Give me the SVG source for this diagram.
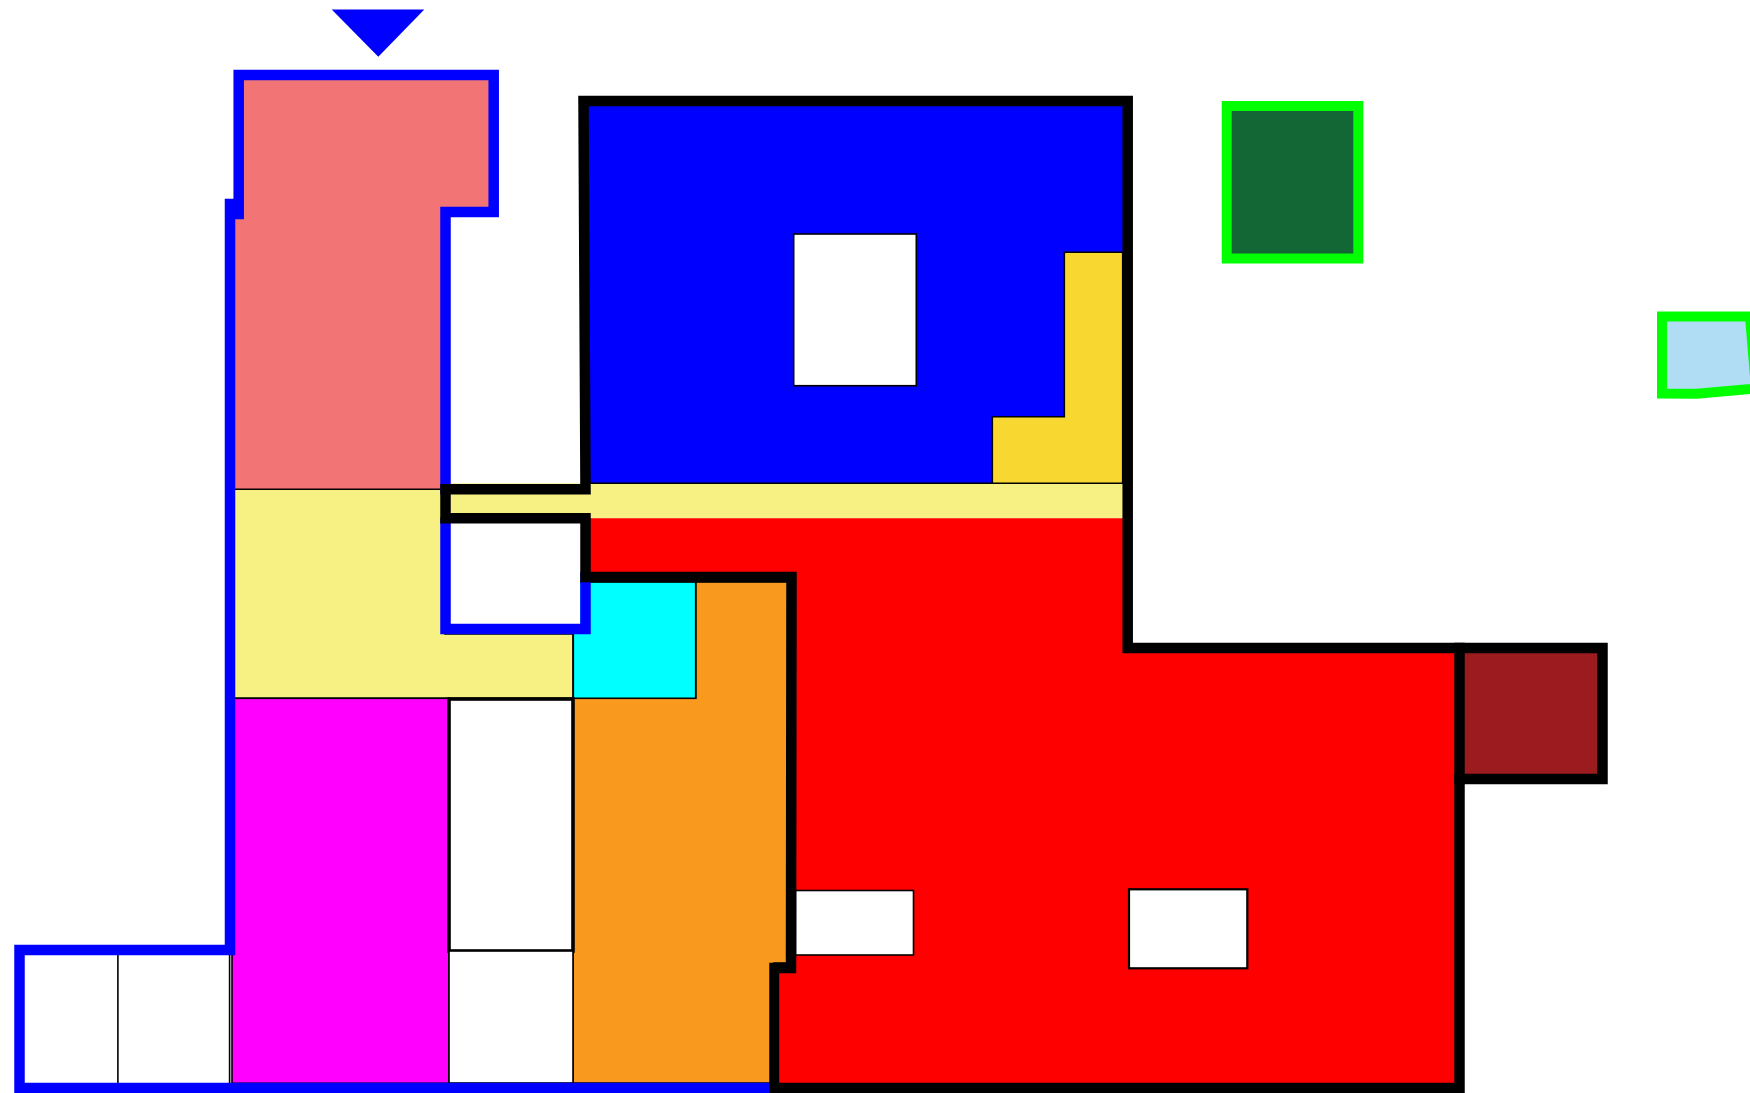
<svg xmlns="http://www.w3.org/2000/svg" width="1750" height="1093" viewBox="0 0 1750 1093">
<style>
.thin{stroke:#000;stroke-width:1.6}
.bw{fill:none;stroke:#0000ff;stroke-width:10.5;stroke-linejoin:miter;stroke-linecap:square}
.kw{fill:none;stroke:#000;stroke-width:10.5;stroke-linejoin:miter;stroke-linecap:square}
.gw{stroke:#00ff00;stroke-width:10}
</style>
<rect width="1750" height="1093" fill="#fff"/>
<g id="rooms">
<polygon id="pink" points="238,75 493,75 493,212 445,212 445,489.3 230,489.3 230,214 238,214" fill="#f27474"/>
<polygon id="yellow-hall" points="232,489.3 445,489.3 445,634 573,634 573,698.3 232,698.3" fill="#f7f083" class="thin"/>
<rect id="corridor" x="445" y="483.3" width="678" height="35" fill="#f7f083"/>
<rect id="blue-room" x="585" y="101" width="538" height="382.3" fill="#0000ff"/>
<line x1="589" y1="483.3" x2="1123" y2="483.3" class="thin"/>
<polygon id="gold" points="1064.3,252.3 1122.7,252.3 1122.7,483.3 992.3,483.3 992.3,416.7 1064.3,416.7" fill="#f8d731" class="thin"/>
<rect id="wc-blue" x="793.7" y="234" width="122.6" height="151.7" fill="#fff" class="thin"/>
<polygon id="red" points="589,518.3 1123,518.3 1123,653 1455,653 1455,1083 780,1083 780,973 786,973 786,582 589,582" fill="#ff0000"/>
<polygon id="orange" points="695.7,582 788,582 788,963 774,963 774,1083 573,1083 573,698.3 695.7,698.3" fill="#f99a1f" class="thin"/>
<rect id="cyan" x="573.3" y="582" width="122.4" height="116.3" fill="#00ffff" class="thin"/>
<rect id="white-a" x="450" y="523" width="130" height="101" fill="#fff"/>
<rect id="magenta" x="232" y="698.3" width="217" height="385" fill="#ff00ff" class="thin"/>
<rect id="white-tall" x="449" y="699" width="124" height="252" fill="#fff" stroke="#000" stroke-width="3.6"/>
<rect id="white-low" x="449" y="951" width="124" height="132" fill="#fff" class="thin"/>
<rect id="left-rooms" x="24" y="955" width="206" height="128" fill="#fff"/>
<line x1="117.9" y1="955" x2="117.9" y2="1083" class="thin"/>
<line x1="229.6" y1="955" x2="229.6" y2="1083" class="thin"/>
<rect id="wc-red-1" x="795.5" y="890.5" width="118" height="64.5" fill="#fff" class="thin"/>
<rect id="wc-red-2" x="1129" y="889.3" width="118.3" height="79" fill="#fff" stroke="#000" stroke-width="2.2"/>
<rect id="darkred" x="1459.5" y="648" width="143" height="131" fill="#9b1b1f"/>
</g>
<g id="walls">
<path class="bw" d="M238.7,214 V75 H493.7 V212 H445.5 V489"/>
<path class="bw" d="M445.5,523 V629 H585.5 V577"/>
<path class="bw" d="M230,204 V950 H19.5 V1088 H769"/>
<path class="kw" d="M445.5,518.3 V489.2 H585.5 L583.5,101 H1127.7 V648 H1459.5 V1088 H774.5 V968 H791 L791.5,577 H585.5 V518.3 Z"/>
<path class="kw" d="M1459.5,648 H1602.5 V779 H1459.5"/>
</g>
<g id="entrance">
<polygon points="331.7,9.5 424.3,9.5 378.3,56.7" fill="#0000ff"/>
</g>
<g id="green-room">
<rect x="1226.7" y="106" width="131.6" height="152.5" fill="#136735" class="gw"/>
</g>
<g id="lightblue-room">
<polygon points="1662,316.5 1750,316.5 1756,388.5 1697,393.7 1662,393.5" fill="#b0ddf4" class="gw"/>
</g>
</svg>
